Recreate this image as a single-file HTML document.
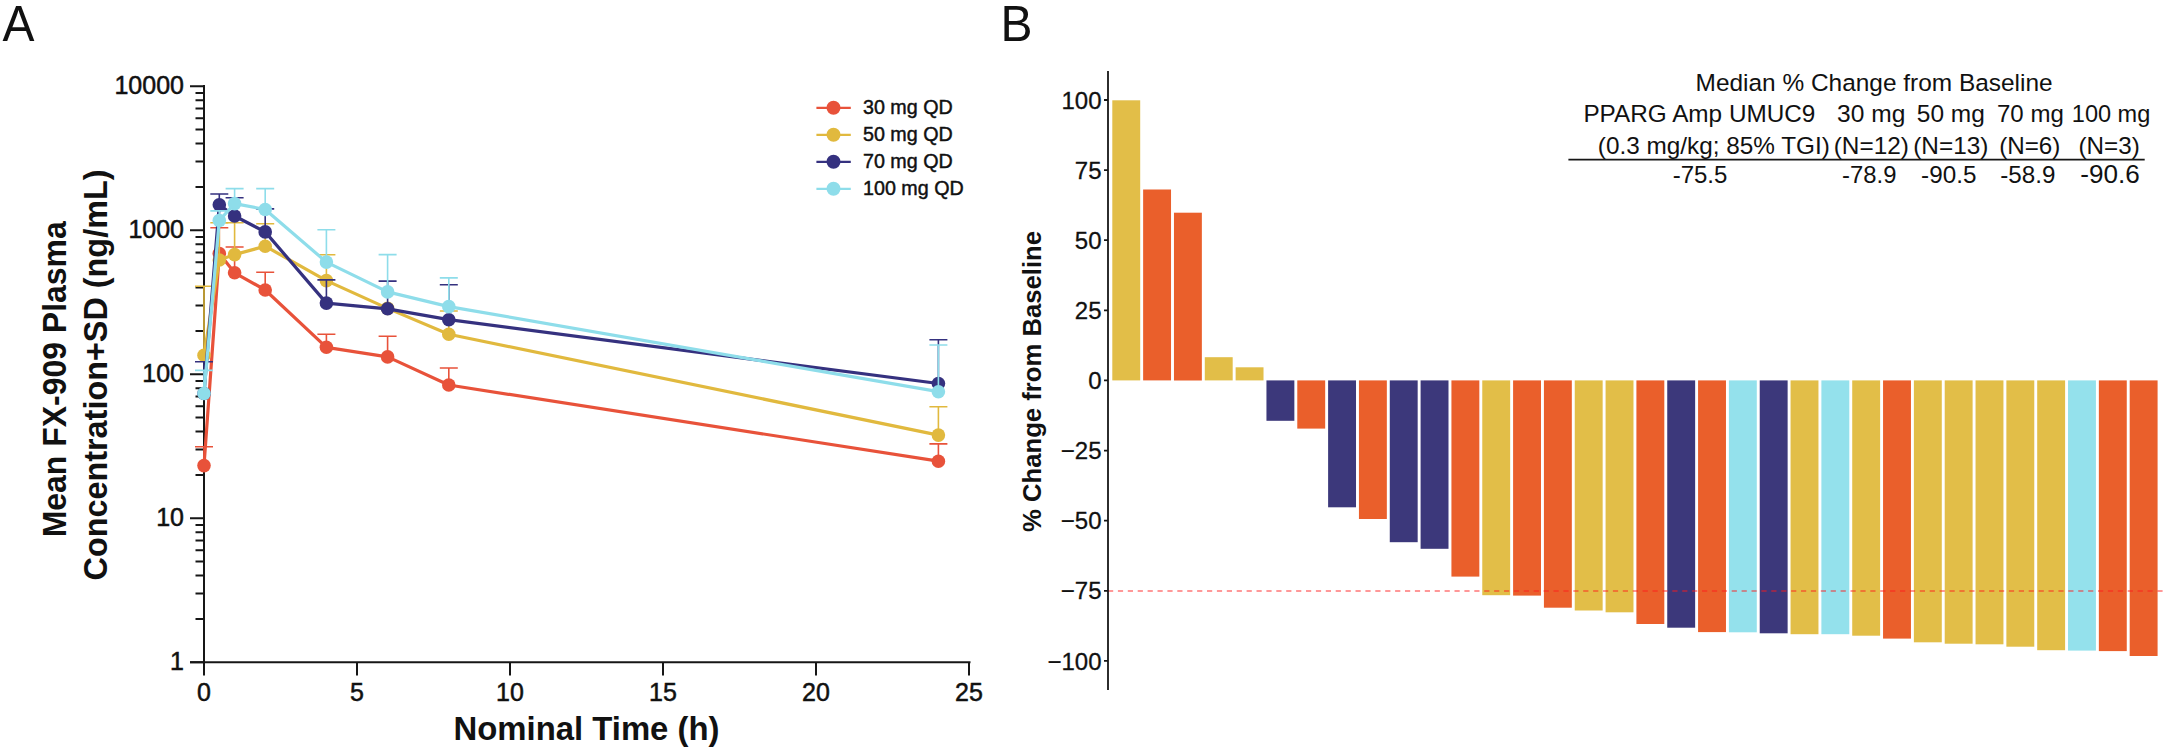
<!DOCTYPE html><html><head><meta charset="utf-8"><title>Figure</title><style>html,body{margin:0;padding:0;background:#fff}svg{display:block}text{font-family:"Liberation Sans",sans-serif;fill:#111}</style></head><body>
<svg width="2164" height="748" viewBox="0 0 2164 748">
<rect width="2164" height="748" fill="#fff"/>
<text x="2.5" y="41.2" font-size="50" textLength="32" lengthAdjust="spacingAndGlyphs">A</text>
<text x="1000.5" y="41.2" font-size="50" textLength="32" lengthAdjust="spacingAndGlyphs">B</text>
<g stroke="#161616" stroke-width="2" fill="none">
<path d="M204.0 85V675.5"/>
<path d="M190 662.3H970.5"/>
<path d="M190 662.3H204.0M195.5 619.0H204.0M195.5 593.6H204.0M195.5 575.6H204.0M195.5 561.6H204.0M195.5 550.2H204.0M195.5 540.6H204.0M195.5 532.3H204.0M195.5 524.9H204.0M190 518.3H204.0M195.5 475.0H204.0M195.5 449.6H204.0M195.5 431.6H204.0M195.5 417.6H204.0M195.5 406.2H204.0M195.5 396.6H204.0M195.5 388.3H204.0M195.5 380.9H204.0M190 374.3H204.0M195.5 331.0H204.0M195.5 305.6H204.0M195.5 287.6H204.0M195.5 273.6H204.0M195.5 262.2H204.0M195.5 252.6H204.0M195.5 244.3H204.0M195.5 236.9H204.0M190 230.3H204.0M195.5 187.0H204.0M195.5 161.6H204.0M195.5 143.6H204.0M195.5 129.6H204.0M195.5 118.2H204.0M195.5 108.6H204.0M195.5 100.3H204.0M195.5 92.9H204.0M190 86.3H204.0"/>
<path d="M357.0 662.3V675.5M510.0 662.3V675.5M663.0 662.3V675.5M816.0 662.3V675.5M969.0 662.3V675.5"/>
</g>
<g stroke="#E8523A" fill="none" stroke-width="1.6"><path d="M204.0 465.6V446.8M195.0 446.8H213.0"/><path d="M219.3 253.5V227.7M210.3 227.7H228.3"/><path d="M234.6 272.8V247.0M225.6 247.0H243.6"/><path d="M265.2 290.0V272.2M256.2 272.2H274.2"/><path d="M326.4 347.3V334.3M317.4 334.3H335.4"/><path d="M387.6 356.9V336.2M378.6 336.2H396.6"/><path d="M448.8 385.0V368.0M439.8 368.0H457.8"/><path d="M938.4 461.2V443.9M929.4 443.9H947.4"/></g>
<polyline points="204.0,465.6 219.3,253.5 234.6,272.8 265.2,290.0 326.4,347.3 387.6,356.9 448.8,385.0 938.4,461.2" fill="none" stroke="#E8523A" stroke-width="3.2" stroke-linejoin="round"/>
<g fill="#E8523A"><circle cx="204.0" cy="465.6" r="6.8"/><circle cx="219.3" cy="253.5" r="6.8"/><circle cx="234.6" cy="272.8" r="6.8"/><circle cx="265.2" cy="290.0" r="6.8"/><circle cx="326.4" cy="347.3" r="6.8"/><circle cx="387.6" cy="356.9" r="6.8"/><circle cx="448.8" cy="385.0" r="6.8"/><circle cx="938.4" cy="461.2" r="6.8"/></g>
<g stroke="#E1B93E" fill="none" stroke-width="1.6"><path d="M204.0 355.3V286.3M195.0 286.3H213.0"/><path d="M219.3 260.0V222.8M210.3 222.8H228.3"/><path d="M234.6 254.6V222.8M225.6 222.8H243.6"/><path d="M265.2 246.2V223.8M256.2 223.8H274.2"/><path d="M326.4 280.6V254.8M317.4 254.8H335.4"/><path d="M448.8 334.2V311.0M439.8 311.0H457.8"/><path d="M938.4 435.1V406.8M929.4 406.8H947.4"/></g>
<polyline points="204.0,355.3 219.3,260.0 234.6,254.6 265.2,246.2 326.4,280.6 387.6,308.4 448.8,334.2 938.4,435.1" fill="none" stroke="#E1B93E" stroke-width="3.2" stroke-linejoin="round"/>
<g fill="#E1B93E"><circle cx="204.0" cy="355.3" r="6.8"/><circle cx="219.3" cy="260.0" r="6.8"/><circle cx="234.6" cy="254.6" r="6.8"/><circle cx="265.2" cy="246.2" r="6.8"/><circle cx="326.4" cy="280.6" r="6.8"/><circle cx="387.6" cy="308.4" r="6.8"/><circle cx="448.8" cy="334.2" r="6.8"/><circle cx="938.4" cy="435.1" r="6.8"/></g>
<g stroke="#35317F" fill="none" stroke-width="1.6"><path d="M204.0 393.5V361.8M195.0 361.8H213.0"/><path d="M219.3 204.8V194.0M210.3 194.0H228.3"/><path d="M234.6 216.0V197.7M225.6 197.7H243.6"/><path d="M265.2 231.9V208.9M256.2 208.9H274.2"/><path d="M326.4 303.1V279.9M317.4 279.9H335.4"/><path d="M387.6 308.8V281.1M378.6 281.1H396.6"/><path d="M448.8 319.7V284.8M439.8 284.8H457.8"/><path d="M938.4 383.5V339.7M929.4 339.7H947.4"/></g>
<polyline points="204.0,393.5 219.3,204.8 234.6,216.0 265.2,231.9 326.4,303.1 387.6,308.8 448.8,319.7 938.4,383.5" fill="none" stroke="#35317F" stroke-width="3.2" stroke-linejoin="round"/>
<g fill="#35317F"><circle cx="204.0" cy="393.5" r="6.8"/><circle cx="219.3" cy="204.8" r="6.8"/><circle cx="234.6" cy="216.0" r="6.8"/><circle cx="265.2" cy="231.9" r="6.8"/><circle cx="326.4" cy="303.1" r="6.8"/><circle cx="387.6" cy="308.8" r="6.8"/><circle cx="448.8" cy="319.7" r="6.8"/><circle cx="938.4" cy="383.5" r="6.8"/></g>
<g stroke="#8EDDEA" fill="none" stroke-width="1.6"><path d="M204.0 393.5V370.4M195.0 370.4H213.0"/><path d="M219.3 220.5V210.9M210.3 210.9H228.3"/><path d="M234.6 203.6V188.6M225.6 188.6H243.6"/><path d="M265.2 209.5V188.6M256.2 188.6H274.2"/><path d="M326.4 262.1V229.8M317.4 229.8H335.4"/><path d="M387.6 291.9V254.6M378.6 254.6H396.6"/><path d="M448.8 306.6V277.9M439.8 277.9H457.8"/><path d="M938.4 391.7V345.0M929.4 345.0H947.4"/></g>
<polyline points="204.0,393.5 219.3,220.5 234.6,203.6 265.2,209.5 326.4,262.1 387.6,291.9 448.8,306.6 938.4,391.7" fill="none" stroke="#8EDDEA" stroke-width="3.2" stroke-linejoin="round"/>
<g fill="#8EDDEA"><circle cx="204.0" cy="393.5" r="6.8"/><circle cx="219.3" cy="220.5" r="6.8"/><circle cx="234.6" cy="203.6" r="6.8"/><circle cx="265.2" cy="209.5" r="6.8"/><circle cx="326.4" cy="262.1" r="6.8"/><circle cx="387.6" cy="291.9" r="6.8"/><circle cx="448.8" cy="306.6" r="6.8"/><circle cx="938.4" cy="391.7" r="6.8"/></g>
<text x="184" y="670.3" font-size="25" text-anchor="end" stroke="#111" stroke-width="0.5">1</text>
<text x="184" y="526.3" font-size="25" text-anchor="end" stroke="#111" stroke-width="0.5">10</text>
<text x="184" y="382.3" font-size="25" text-anchor="end" stroke="#111" stroke-width="0.5">100</text>
<text x="184" y="238.3" font-size="25" text-anchor="end" stroke="#111" stroke-width="0.5">1000</text>
<text x="184" y="94.3" font-size="25" text-anchor="end" stroke="#111" stroke-width="0.5">10000</text>
<text x="204.0" y="700.8" font-size="25" text-anchor="middle" stroke="#111" stroke-width="0.5">0</text>
<text x="357.0" y="700.8" font-size="25" text-anchor="middle" stroke="#111" stroke-width="0.5">5</text>
<text x="510.0" y="700.8" font-size="25" text-anchor="middle" stroke="#111" stroke-width="0.5">10</text>
<text x="663.0" y="700.8" font-size="25" text-anchor="middle" stroke="#111" stroke-width="0.5">15</text>
<text x="816.0" y="700.8" font-size="25" text-anchor="middle" stroke="#111" stroke-width="0.5">20</text>
<text x="969.0" y="700.8" font-size="25" text-anchor="middle" stroke="#111" stroke-width="0.5">25</text>
<text x="586.5" y="739.6" font-size="33" font-weight="bold" text-anchor="middle" textLength="266" lengthAdjust="spacingAndGlyphs">Nominal Time (h)</text>
<text transform="translate(66 379.3) rotate(-90)" font-size="33" font-weight="bold" text-anchor="middle" textLength="316" lengthAdjust="spacingAndGlyphs">Mean FX-909 Plasma</text>
<text transform="translate(107 375) rotate(-90)" font-size="33" font-weight="bold" text-anchor="middle" textLength="411" lengthAdjust="spacingAndGlyphs">Concentration+SD (ng/mL)</text>
<path d="M816.4 107.8H850.8" stroke="#E8523A" stroke-width="2.2"/><circle cx="833.5" cy="107.8" r="7" fill="#E8523A"/>
<text x="863" y="114.1" font-size="19.7" stroke="#111" stroke-width="0.45">30 mg QD</text>
<path d="M816.4 134.8H850.8" stroke="#E1B93E" stroke-width="2.2"/><circle cx="833.5" cy="134.8" r="7" fill="#E1B93E"/>
<text x="863" y="141.1" font-size="19.7" stroke="#111" stroke-width="0.45">50 mg QD</text>
<path d="M816.4 161.8H850.8" stroke="#35317F" stroke-width="2.2"/><circle cx="833.5" cy="161.8" r="7" fill="#35317F"/>
<text x="863" y="168.1" font-size="19.7" stroke="#111" stroke-width="0.45">70 mg QD</text>
<path d="M816.4 188.8H850.8" stroke="#8EDDEA" stroke-width="2.2"/><circle cx="833.5" cy="188.8" r="7" fill="#8EDDEA"/>
<text x="863" y="195.1" font-size="19.7" stroke="#111" stroke-width="0.45">100 mg QD</text>
<rect x="1112.30" y="100.3" width="27.9" height="280.1" fill="#E2BE48"/>
<rect x="1143.13" y="189.5" width="27.9" height="190.9" fill="#EA5F2B"/>
<rect x="1173.96" y="212.7" width="27.9" height="167.8" fill="#EA5F2B"/>
<rect x="1204.79" y="357.2" width="27.9" height="23.2" fill="#E2BE48"/>
<rect x="1235.62" y="367.3" width="27.9" height="13.1" fill="#E2BE48"/>
<rect x="1266.45" y="380.4" width="27.9" height="40.4" fill="#3C387B"/>
<rect x="1297.28" y="380.4" width="27.9" height="48.2" fill="#EA5F2B"/>
<rect x="1328.11" y="380.4" width="27.9" height="126.9" fill="#3C387B"/>
<rect x="1358.94" y="380.4" width="27.9" height="138.6" fill="#EA5F2B"/>
<rect x="1389.77" y="380.4" width="27.9" height="161.8" fill="#3C387B"/>
<rect x="1420.60" y="380.4" width="27.9" height="168.4" fill="#3C387B"/>
<rect x="1451.43" y="380.4" width="27.9" height="196.2" fill="#EA5F2B"/>
<rect x="1482.26" y="380.4" width="27.9" height="214.8" fill="#E2BE48"/>
<rect x="1513.09" y="380.4" width="27.9" height="215.2" fill="#EA5F2B"/>
<rect x="1543.92" y="380.4" width="27.9" height="227.3" fill="#EA5F2B"/>
<rect x="1574.75" y="380.4" width="27.9" height="230.1" fill="#E2BE48"/>
<rect x="1605.58" y="380.4" width="27.9" height="231.9" fill="#E2BE48"/>
<rect x="1636.41" y="380.4" width="27.9" height="243.6" fill="#EA5F2B"/>
<rect x="1667.24" y="380.4" width="27.9" height="247.3" fill="#3C387B"/>
<rect x="1698.07" y="380.4" width="27.9" height="251.7" fill="#EA5F2B"/>
<rect x="1728.90" y="380.4" width="27.9" height="251.9" fill="#94E1EC"/>
<rect x="1759.73" y="380.4" width="27.9" height="252.9" fill="#3C387B"/>
<rect x="1790.56" y="380.4" width="27.9" height="253.8" fill="#E2BE48"/>
<rect x="1821.39" y="380.4" width="27.9" height="253.8" fill="#94E1EC"/>
<rect x="1852.22" y="380.4" width="27.9" height="255.3" fill="#E2BE48"/>
<rect x="1883.05" y="380.4" width="27.9" height="258.2" fill="#EA5F2B"/>
<rect x="1913.88" y="380.4" width="27.9" height="261.9" fill="#E2BE48"/>
<rect x="1944.71" y="380.4" width="27.9" height="263.3" fill="#E2BE48"/>
<rect x="1975.54" y="380.4" width="27.9" height="263.9" fill="#E2BE48"/>
<rect x="2006.37" y="380.4" width="27.9" height="266.3" fill="#E2BE48"/>
<rect x="2037.20" y="380.4" width="27.9" height="269.8" fill="#E2BE48"/>
<rect x="2068.03" y="380.4" width="27.9" height="270.2" fill="#94E1EC"/>
<rect x="2098.86" y="380.4" width="27.9" height="270.7" fill="#EA5F2B"/>
<rect x="2129.69" y="380.4" width="27.9" height="275.6" fill="#EA5F2B"/>
<path d="M1108.0 590.9H2163" stroke="#FF1A1A" stroke-opacity="0.6" stroke-width="1.5" stroke-dasharray="5.2 4.7" fill="none"/>
<g stroke="#161616" stroke-width="1.8" fill="none"><path d="M1108.0 71V690"/>
<path d="M1104 660.9H1108.0M1104 590.8H1108.0M1104 520.7H1108.0M1104 450.6H1108.0M1104 380.4H1108.0M1104 310.3H1108.0M1104 240.2H1108.0M1104 170.1H1108.0M1104 100.0H1108.0"/></g>
<text x="1101.5" y="669.5" font-size="24" text-anchor="end" stroke="#111" stroke-width="0.3">−100</text>
<text x="1101.5" y="599.4" font-size="24" text-anchor="end" stroke="#111" stroke-width="0.3">−75</text>
<text x="1101.5" y="529.3" font-size="24" text-anchor="end" stroke="#111" stroke-width="0.3">−50</text>
<text x="1101.5" y="459.2" font-size="24" text-anchor="end" stroke="#111" stroke-width="0.3">−25</text>
<text x="1101.5" y="389.1" font-size="24" text-anchor="end" stroke="#111" stroke-width="0.3">0</text>
<text x="1101.5" y="318.9" font-size="24" text-anchor="end" stroke="#111" stroke-width="0.3">25</text>
<text x="1101.5" y="248.8" font-size="24" text-anchor="end" stroke="#111" stroke-width="0.3">50</text>
<text x="1101.5" y="178.7" font-size="24" text-anchor="end" stroke="#111" stroke-width="0.3">75</text>
<text x="1101.5" y="108.6" font-size="24" text-anchor="end" stroke="#111" stroke-width="0.3">100</text>
<text transform="translate(1041 381.5) rotate(-90)" font-size="25.7" font-weight="bold" text-anchor="middle" textLength="301" lengthAdjust="spacingAndGlyphs">% Change from Baseline</text>
<text x="1695.6" y="90.7" font-size="24.3" textLength="357.0" lengthAdjust="spacingAndGlyphs">Median % Change from Baseline</text>
<text x="1583.4" y="122.0" font-size="24.3" textLength="232.0" lengthAdjust="spacingAndGlyphs">PPARG Amp UMUC9</text>
<text x="1837.1" y="122.0" font-size="24.3" textLength="68.2" lengthAdjust="spacingAndGlyphs">30 mg</text>
<text x="1916.8" y="122.0" font-size="24.3" textLength="68.0" lengthAdjust="spacingAndGlyphs">50 mg</text>
<text x="1997.0" y="122.0" font-size="24.3" textLength="66.8" lengthAdjust="spacingAndGlyphs">70 mg</text>
<text x="2071.8" y="122.0" font-size="24.3" textLength="78.5" lengthAdjust="spacingAndGlyphs">100 mg</text>
<text x="1597.8" y="153.5" font-size="24.3" textLength="232.1" lengthAdjust="spacingAndGlyphs">(0.3 mg/kg; 85% TGI)</text>
<text x="1833.7" y="153.5" font-size="24.3" textLength="75.2" lengthAdjust="spacingAndGlyphs">(N=12)</text>
<text x="1913.2" y="153.5" font-size="24.3" textLength="75.2" lengthAdjust="spacingAndGlyphs">(N=13)</text>
<text x="1999.2" y="153.5" font-size="24.3" textLength="61.2" lengthAdjust="spacingAndGlyphs">(N=6)</text>
<text x="2078.5" y="153.5" font-size="24.3" textLength="61.2" lengthAdjust="spacingAndGlyphs">(N=3)</text>
<path d="M1568.4 159.6H2144.7" stroke="#161616" stroke-width="1.6"/>
<text x="1672.7" y="182.8" font-size="24.3" textLength="54.7" lengthAdjust="spacingAndGlyphs">-75.5</text>
<text x="1842.1" y="182.8" font-size="24.3" textLength="54.3" lengthAdjust="spacingAndGlyphs">-78.9</text>
<text x="1921.1" y="182.8" font-size="24.3" textLength="55.3" lengthAdjust="spacingAndGlyphs">-90.5</text>
<text x="2000.3" y="182.8" font-size="24.3" textLength="55.1" lengthAdjust="spacingAndGlyphs">-58.9</text>
<text x="2080.2" y="182.8" font-size="25.6" textLength="59.5" lengthAdjust="spacingAndGlyphs">-90.6</text>
</svg></body></html>
